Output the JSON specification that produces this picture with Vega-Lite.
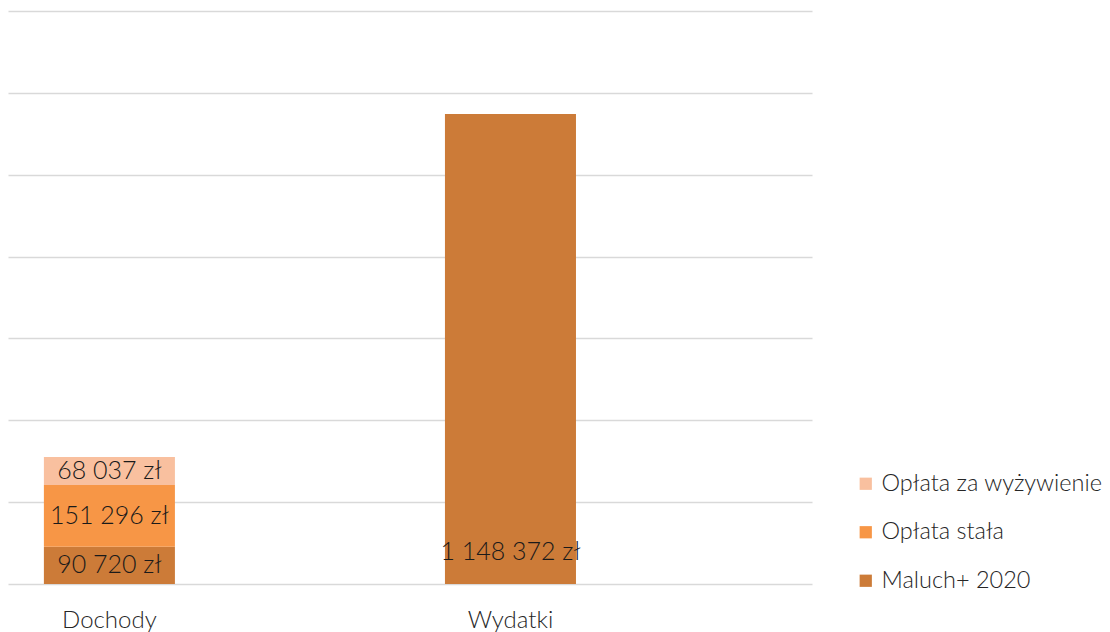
{
  "$schema": "https://vega.github.io/schema/vega-lite/v6.json",
  "width": 804,
  "height": 573,
  "autosize": {"type": "none"},
  "padding": {"left": 8, "top": 11, "right": 298, "bottom": 48},
  "background": "white",
  "config": {
    "view": {"stroke": null},
    "font": "Lato",
    "text": {"font": "Lato"}
  },
  "data": {
    "values": [
      {"cat": "Dochody", "series": "Maluch+ 2020", "k": 1, "value": 90720, "label": "90 720 zł"},
      {"cat": "Dochody", "series": "Opłata stała", "k": 2, "value": 151296, "label": "151 296 zł"},
      {"cat": "Dochody", "series": "Opłata za wyżywienie", "k": 3, "value": 68037, "label": "68 037 zł"},
      {"cat": "Wydatki", "series": "Maluch+ 2020", "k": 1, "value": 1148372, "label": "1 148 372 zł"}
    ]
  },
  "encoding": {
    "x": {
      "field": "cat",
      "type": "nominal",
      "sort": ["Dochody", "Wydatki"],
      "scale": {"paddingInner": 0.6733, "paddingOuter": 0.339, "align": 0.132},
      "axis": {
        "title": null,
        "labelAngle": 0,
        "labelFontSize": 24,
        "labelFontWeight": 300,
        "labelColor": "#262626",
        "labelPadding": 24,
        "domain": false,
        "ticks": false,
        "grid": false,
        "labelFont": "Lato"
      }
    }
  },
  "layer": [
    {
      "mark": {"type": "bar"},
      "encoding": {
        "y": {
          "field": "value",
          "type": "quantitative",
          "stack": "zero",
          "scale": {"domain": [0, 1400000], "nice": false},
          "axis": {
            "title": null,
            "labels": false,
            "ticks": false,
            "domain": false,
            "grid": true,
            "gridColor": "#D9D9D9",
            "gridWidth": 1.5,
            "values": [0, 200000, 400000, 600000, 800000, 1000000, 1200000, 1400000]
          }
        },
        "order": {"field": "k", "type": "quantitative"},
        "color": {
          "field": "series",
          "type": "nominal",
          "scale": {
            "domain": ["Opłata za wyżywienie", "Opłata stała", "Maluch+ 2020"],
            "range": ["#F9C09F", "#F79646", "#CC7B38"]
          },
          "legend": {
            "title": null,
            "orient": "none",
            "legendX": 846,
            "legendY": 461,
            "symbolType": "square",
            "symbolSize": 150,
            "symbolStrokeWidth": 0,
            "labelFontSize": 23.5,
            "labelFontWeight": 300,
            "labelFont": "Lato",
            "labelColor": "#262626",
            "labelOffset": 4,
            "rowPadding": 23.5,
            "labelLimit": 300
          }
        }
      }
    },
    {
      "transform": [{"filter": "datum.cat == 'Dochody'"}],
      "mark": {"type": "text", "fontSize": 25, "fontWeight": 300, "color": "#1a1a1a", "baseline": "middle", "align": "center", "font": "Lato"},
      "encoding": {
        "y": {"field": "value", "type": "quantitative", "stack": "zero", "bandPosition": 0.5},
        "order": {"field": "k", "type": "quantitative"},
        "text": {"field": "label"}
      }
    },
    {
      "transform": [{"filter": "datum.cat == 'Wydatki'"}],
      "mark": {"type": "text", "fontSize": 25, "fontWeight": 300, "color": "#1a1a1a", "baseline": "middle", "align": "center", "dy": -32, "font": "Lato"},
      "encoding": {
        "y": {"datum": 0, "type": "quantitative"},
        "text": {"field": "label"}
      }
    }
  ]
}
